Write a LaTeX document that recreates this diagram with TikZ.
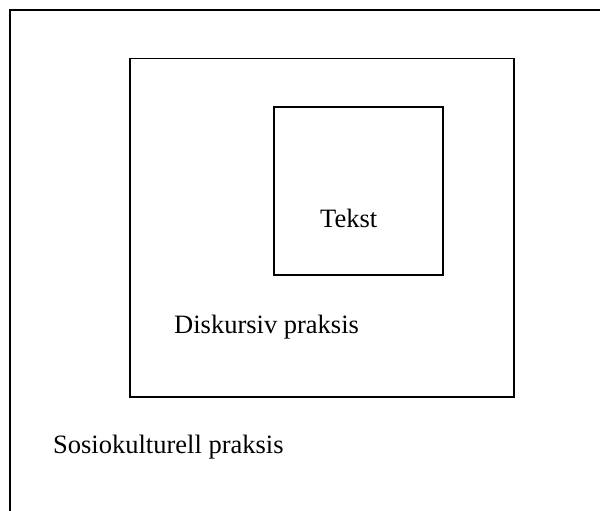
\documentclass[tikz,border=0pt]{standalone}
\usepackage{fontspec}
\setmainfont{Liberation Serif}
\begin{document}
\begin{tikzpicture}[x=1pt,y=-1pt,
  frame/.style={draw=black,line width=1.5pt,inner sep=0pt,anchor=north west},
  lbl/.style={inner sep=0pt,anchor=base west,font=\fontsize{26.5}{30}\selectfont}]
\useasboundingbox (0,0) rectangle (600,511);
\coordinate (ob) at (10,511);
\coordinate (otl) at (10,10);
\coordinate (otr) at (600,10);
\draw[line width=1.5pt] (ob) -- (otl) -- (otr);
\node[frame,minimum width=384pt,minimum height=338pt] (mid) at (129,58) {};
\node[frame,minimum width=169pt,minimum height=168pt] (inner) at (273,106) {};
\node[lbl] (tekst) at (320,227) {Tekst};
\node[lbl] (disk) at (174,333) {Diskursiv praksis};
\node[lbl] (sosio) at (53,453) {Sosiokulturell praksis};
\end{tikzpicture}
\end{document}
